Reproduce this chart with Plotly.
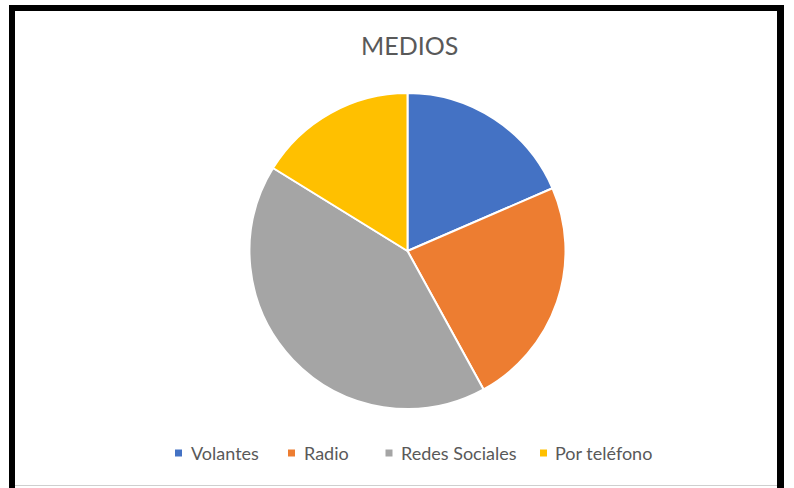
import plotly.graph_objects as go

# Survey: how people heard about the event
categories = ["Volantes", "Radio", "Redes Sociales", "Por teléfono"]
values = [18.5, 23.5, 41.8, 16.2]
colors = ["#4472C4", "#ED7D31", "#A5A5A5", "#FFC000"]
title_text = "MEDIOS"

W, H = 794, 488


def px(x):
    return x / W


def py(y):
    return 1 - y / H


# pie placement (pixel centre and radius)
cx, cy, r = 407.5, 251, 158

fig = go.Figure(
    go.Pie(
        labels=categories,
        values=values,
        sort=False,
        direction="clockwise",
        rotation=0,
        marker=dict(colors=colors, line=dict(color="white", width=2)),
        textinfo="none",
        hoverinfo="label+percent",
        domain=dict(x=[px(cx - r), px(cx + r)], y=[py(cy + r), py(cy - r)]),
        showlegend=False,
    )
)

# frame around the chart
shapes = [
    dict(type="rect", xref="paper", yref="paper", x0=px(9), x1=px(784), y0=py(11), y1=py(5),
         fillcolor="black", line=dict(width=0), layer="above"),
    dict(type="rect", xref="paper", yref="paper", x0=px(9), x1=px(15), y0=py(488), y1=py(5),
         fillcolor="black", line=dict(width=0), layer="above"),
    dict(type="rect", xref="paper", yref="paper", x0=px(777), x1=px(784), y0=py(488), y1=py(5),
         fillcolor="black", line=dict(width=0), layer="above"),
    dict(type="line", xref="paper", yref="paper", x0=px(15), x1=px(777), y0=py(485.5), y1=py(485.5),
         line=dict(color="#cfcfcf", width=1)),
]

# legend row: small coloured squares followed by labels
legend_square_x = [178.5, 291.5, 389, 543.5]
legend_text_x = [189, 302, 399, 553]
legend_y = 453
annotations = []
for name, col, sx, tx in zip(categories, colors, legend_square_x, legend_text_x):
    shapes.append(dict(type="rect", xref="paper", yref="paper",
                       x0=px(sx - 3.5), x1=px(sx + 3.5), y0=py(legend_y + 3.5), y1=py(legend_y - 3.5),
                       fillcolor=col, line=dict(width=0)))
    annotations.append(dict(text=name, x=px(tx), y=py(legend_y), xref="paper", yref="paper",
                            xanchor="left", yanchor="middle", showarrow=False,
                            font=dict(family="Lato", size=18, color="#595959")))

annotations.append(dict(text=title_text, x=px(410), y=py(45), xref="paper", yref="paper",
                        xanchor="center", yanchor="middle", showarrow=False,
                        font=dict(family="Lato", size=25, color="#595959")))

fig.update_layout(
    width=W, height=H,
    margin=dict(l=0, r=0, t=0, b=0),
    paper_bgcolor="white",
    plot_bgcolor="white",
    shapes=shapes,
    annotations=annotations,
)

fig.write_html("out.html")
